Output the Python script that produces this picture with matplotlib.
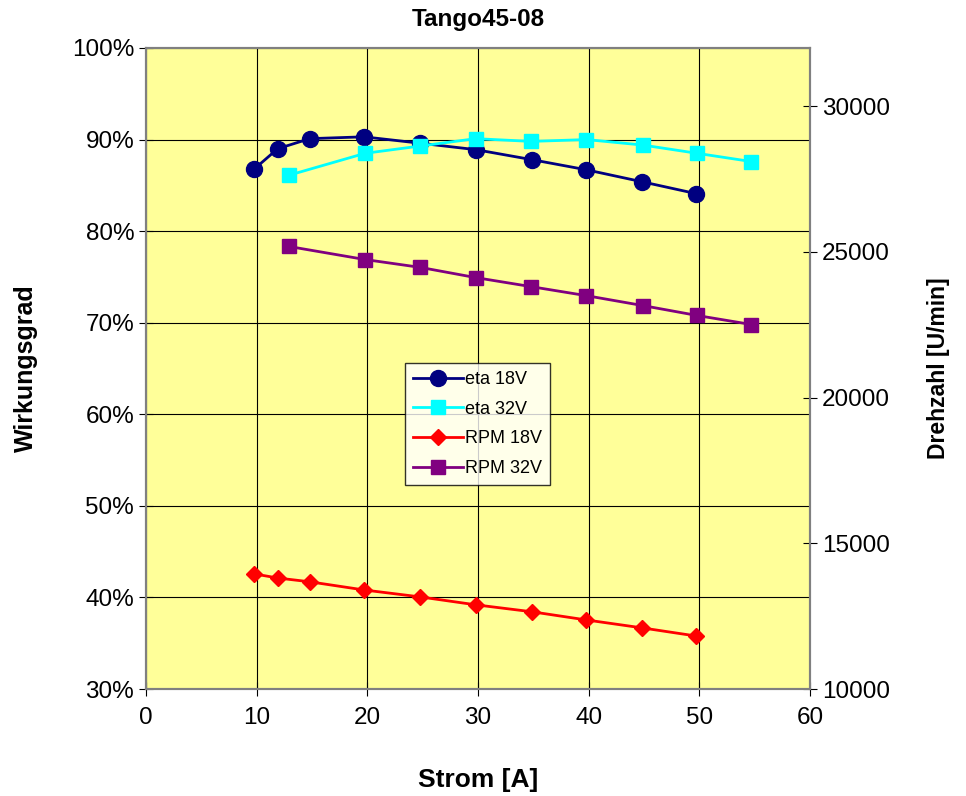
import matplotlib.pyplot as plt
from matplotlib.ticker import FuncFormatter

plt.rcParams['font.family'] = ['Liberation Sans', 'DejaVu Sans']

# data
strom_18 = [9.8, 11.9, 14.8, 19.7, 24.8, 29.8, 34.9, 39.8, 44.8, 49.7]
eta_18 = [86.8, 89.0, 90.1, 90.3, 89.6, 88.9, 87.8, 86.7, 85.4, 84.1]
rpm_18 = [13950, 13810, 13680, 13400, 13160, 12890, 12650, 12370, 12100, 11820]

strom_32 = [12.9, 19.8, 24.8, 29.8, 34.8, 39.8, 44.9, 49.8, 54.7]
eta_32 = [86.1, 88.5, 89.3, 90.1, 89.8, 90.0, 89.4, 88.5, 87.6]
rpm_32 = [25190, 24740, 24470, 24120, 23810, 23500, 23160, 22820, 22510]

fig = plt.figure(figsize=(9.66, 7.96), dpi=100)
ax1 = fig.add_axes([0.1511, 0.1344, 0.6874, 0.8053])
ax1.set_facecolor('#FFFF99')
ax2 = ax1.twinx()

l1, = ax1.plot(strom_18, eta_18, color='#000080', marker='o', markersize=11.5, lw=2, label='eta 18V')
l2, = ax1.plot(strom_32, eta_32, color='#00FFFF', marker='s', markersize=10, lw=2, label='eta 32V')
l3, = ax2.plot(strom_18, rpm_18, color='#FF0000', marker='D', markersize=8.5, lw=2, label='RPM 18V')
l4, = ax2.plot(strom_32, rpm_32, color='#800080', marker='s', markersize=10, lw=2, label='RPM 32V')

ax1.set_xlim(0, 60)
ax1.set_ylim(30, 100)
ax2.set_ylim(10000, 32000)
ax1.set_xticks(range(0, 61, 10))
ax1.set_yticks(range(30, 101, 10))
ax2.set_yticks(range(10000, 30001, 5000))
ax1.yaxis.set_major_formatter(FuncFormatter(lambda v, p: f'{v:.0f}%'))
ax1.grid(True, color='black', lw=0.8)
ax1.set_axisbelow(True)

for ax in (ax1, ax2):
    ax.tick_params(labelsize=17.5, direction='inout', length=10, width=0.8)
    for s in ax.spines.values():
        s.set_color('#808080')
        s.set_linewidth(1.5)

ax1.tick_params(axis='x', pad=8)
ax1.set_xlabel('Strom [A]', fontsize=19, fontweight='bold', labelpad=28)
ax1.set_ylabel('Wirkungsgrad', fontsize=18, fontweight='bold', labelpad=24)
ax2.set_ylabel('Drehzahl [U/min]', fontsize=16.5, fontweight='bold', labelpad=27)
ax1.set_title('Tango45-08', fontsize=17.5, fontweight='bold', pad=16)

leg = ax2.legend(handles=[l1, l2, l3, l4], loc='upper left', bbox_to_anchor=(0.376, 0.523),
                 fontsize=13, frameon=True, fancybox=False, borderpad=0.45,
                 handlelength=2.8, handletextpad=0.1, labelspacing=0.7)
leg.get_frame().set_edgecolor('black')
leg.get_frame().set_linewidth(1)

fig.savefig('out.png', dpi=100)
